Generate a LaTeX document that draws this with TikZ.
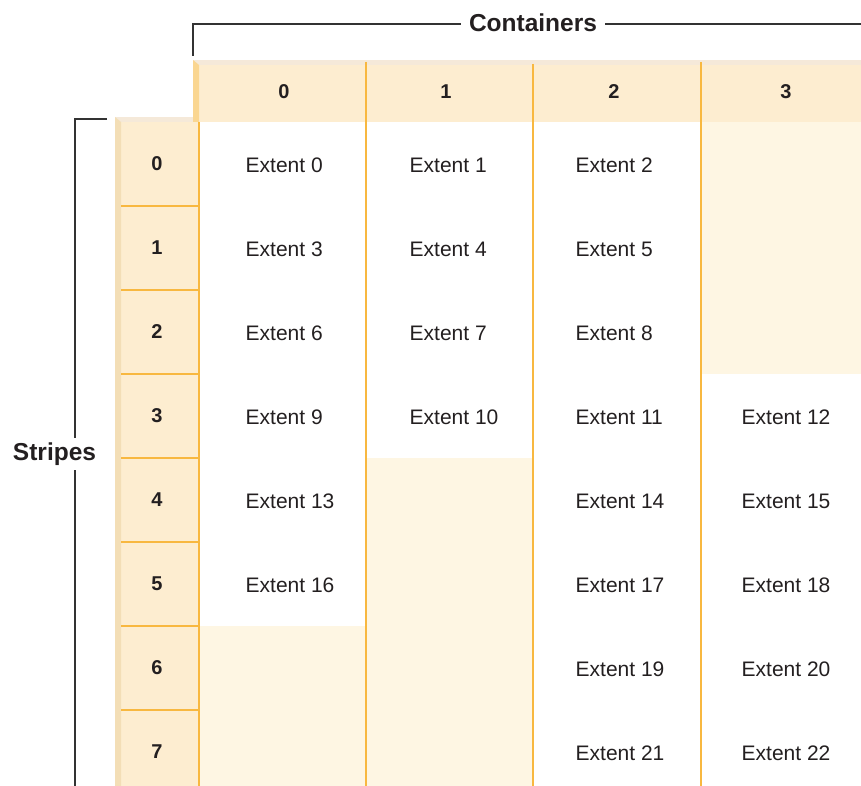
\documentclass[tikz,border=0pt]{standalone}
\usepackage{fontspec}
\setmainfont{Liberation Sans}
\definecolor{hdr}{RGB}{253,237,208}
\definecolor{hdrtop}{RGB}{245,233,217}
\definecolor{hdrbevel}{RGB}{250,214,145}
\definecolor{rowbevel}{RGB}{243,222,182}
\definecolor{cream}{RGB}{254,246,227}
\definecolor{orangeline}{RGB}{248,184,64}
\definecolor{ink}{RGB}{35,31,32}
\definecolor{bracketc}{RGB}{51,51,51}
\begin{document}
\begin{tikzpicture}[x=1pt,y=-1pt,
  grid/.style={draw=orangeline,line width=2pt},
  brk/.style={draw=bracketc,line width=2pt},
  extent/.style={anchor=west,inner sep=0pt,text=ink,font=\fontsize{21}{25}\selectfont},
  hnum/.style={inner sep=0pt,text=ink,font=\fontsize{20}{24}\selectfont\bfseries},
  biglabel/.style={text=ink,font=\fontsize{24.5}{29}\selectfont\bfseries}]
\useasboundingbox (0,0) rectangle (861,786);
% row label column
\fill[hdr] (115,117) rectangle (199,786);
\fill[hdrtop] (115,117) rectangle (199,122);
\fill[rowbevel] (115,117) -- (121,122) -- (121,786) -- (115,786) -- cycle;
% header row
\fill[hdr] (193,60) rectangle (861,122);
\fill[hdrtop] (193,60) rectangle (861,65);
\fill[hdrbevel] (193,60) -- (199,65) -- (199,122) -- (193,122) -- cycle;
% empty cells
\fill[cream] (701,122) rectangle (861,374);
\fill[cream] (366,458) rectangle (533,786);
\fill[cream] (199,626) rectangle (366,786);
% grid lines
\draw[grid] (199,122) -- (199,786);
\draw[grid] (366,62) -- (366,786);
\draw[grid] (533,64) -- (533,786);
\draw[grid] (701,62) -- (701,786);
\foreach \r in {1,...,7} {
  \draw[grid] (121,122+84*\r) -- (199,122+84*\r);
}
% header numbers
\node[hnum] (h0) at (284,92) {0};
\node[hnum] (h1) at (446,92) {1};
\node[hnum] (h2) at (614,92) {2};
\node[hnum] (h3) at (786,92) {3};
% row numbers
\foreach \r in {0,...,7} {
  \node[hnum] (r\r) at (157,164+84*\r) {\r};
}
% extents
\foreach \n/\c/\r in {0/0/0,1/1/0,2/2/0,3/0/1,4/1/1,5/2/1,6/0/2,7/1/2,8/2/2,
  9/0/3,10/1/3,11/2/3,12/3/3,13/0/4,14/2/4,15/3/4,16/0/5,17/2/5,18/3/5,
  19/2/6,20/3/6,21/2/7,22/3/7} {
  \pgfmathsetmacro{\xx}{ifthenelse(\c==0,245.5,ifthenelse(\c==1,409.5,ifthenelse(\c==2,575.5,741.5)))}
  \node[extent] (e\n) at (\xx,165+84*\r) {Extent \n};
}
% Containers bracket
\node[biglabel,inner xsep=8pt,inner ysep=0pt] (cont) at (533,23) {Containers};
\coordinate (ctl) at (193,24);
\coordinate (ctb) at (193,56);
\coordinate (ctr) at (861,24);
\draw[brk] (ctb) -- (ctl) -- (cont.west |- ctl);
\draw[brk] (cont.east |- ctr) -- (ctr);
% Stripes bracket
\node[biglabel,inner sep=0pt,minimum height=32pt] (str) at (54.5,454) {Stripes};
\coordinate (stt) at (107,119);
\coordinate (stc) at (75,119);
\coordinate (stb) at (75,786);
\draw[brk] (stt) -- (stc) -- (stc |- str.north);
\draw[brk] (stc |- str.south) -- (stb);
\end{tikzpicture}
\end{document}
